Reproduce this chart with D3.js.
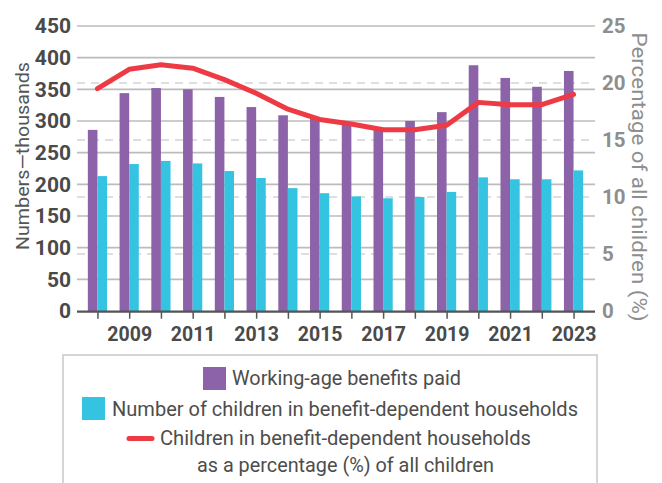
<!DOCTYPE html>
<html>
<head>
<meta charset="utf-8">
<script src="https://cdn.jsdelivr.net/npm/d3@7"></script>
<style>
  html, body { margin: 0; padding: 0; background: #fff; }
  svg { display: block; font-family: Roboto, "Noto Sans", sans-serif; }
</style>
</head>
<body>
<svg id="chart" width="662" height="483"></svg>
<script>
// Years shown on the x axis
const years = [2008, 2009, 2010, 2011, 2012, 2013, 2014, 2015,
               2016, 2017, 2018, 2019, 2020, 2021, 2022, 2023];
// Working-age benefits paid (thousands)
const benefitsPaid = [286, 344, 352, 350, 338, 322, 309, 304,
                      297, 290, 300, 314, 388, 368, 354, 379];
// Children in benefit-dependent households (thousands)
const childrenDependent = [213, 232, 237, 233, 221, 210, 194, 186,
                           181, 178, 180, 188, 211, 208, 208, 222];
// Children in benefit-dependent households as % of all children
const childrenPct = [19.5, 21.2, 21.6, 21.3, 20.3, 19.1, 17.7, 16.8,
                     16.4, 15.9, 15.9, 16.3, 18.3, 18.1, 18.1, 19.0];
// Axis ticks
const leftTicks = [0, 50, 100, 150, 200, 250, 300, 350, 400, 450];
const rightTicks = [0, 5, 10, 15, 20, 25];
const labelledYears = [2009, 2011, 2013, 2015, 2017, 2019, 2021, 2023];

const colPurple = "#8c62a9";
const colCyan = "#34c3e0";
const colRed = "#ee3a44";

const svg = d3.select("#chart");
const plotL = 77, plotR = 595, plotT = 26, plotB = 311;

const x = d3.scalePoint().domain(years).range([76.5, 594.5]).padding(0.66);
const y = d3.scaleLinear().domain([0, 450]).range([plotB, plotT]);
const y2 = d3.scaleLinear().domain([0, 25]).range([plotB, plotT]);
const barW = 9.6;

// Gridlines: solid for the left scale, dashed for the right scale
svg.append("g").selectAll("line").data(leftTicks.slice(1)).join("line")
  .attr("x1", plotL).attr("x2", plotR)
  .attr("y1", d => y(d)).attr("y2", d => y(d))
  .attr("stroke", "#bcbcbc").attr("stroke-width", 1.6);
svg.append("g").selectAll("line").data(rightTicks.slice(1, -1)).join("line")
  .attr("x1", plotL).attr("x2", plotR)
  .attr("y1", d => y2(d)).attr("y2", d => y2(d))
  .attr("stroke", "#d4d4d4").attr("stroke-width", 1.5)
  .attr("stroke-dasharray", "8,6");

// Bars
const rows = years.map((yr, i) => ({ yr, a: benefitsPaid[i], b: childrenDependent[i], p: childrenPct[i] }));
svg.append("g").selectAll("rect").data(rows).join("rect")
  .attr("x", d => x(d.yr) - barW).attr("width", barW)
  .attr("y", d => y(d.a)).attr("height", d => y(0) - y(d.a))
  .attr("fill", colPurple);
svg.append("g").selectAll("rect").data(rows).join("rect")
  .attr("x", d => x(d.yr)).attr("width", barW)
  .attr("y", d => y(d.b)).attr("height", d => y(0) - y(d.b))
  .attr("fill", colCyan);

// Percentage line
svg.append("path").datum(rows)
  .attr("d", d3.line().x(d => x(d.yr)).y(d => y2(d.p)))
  .attr("fill", "none").attr("stroke", colRed)
  .attr("stroke-width", 5).attr("stroke-linejoin", "round").attr("stroke-linecap", "round");

// X axis
const xAxis = svg.append("g").attr("transform", `translate(0,${plotB + 0.7})`)
  .call(d3.axisBottom(x).tickSizeInner(7).tickSizeOuter(0).tickPadding(8)
    .tickFormat(d => labelledYears.includes(d) ? d : ""));
xAxis.select(".domain").attr("d", `M${plotL},0H${plotR}`).attr("stroke", "#555").attr("stroke-width", 2.3);
xAxis.selectAll(".tick line").attr("stroke", "#555").attr("stroke-width", 1.5);
xAxis.selectAll(".tick text").attr("fill", "#4a4a4a").attr("font-size", 19.5)
  .attr("font-weight", 700).attr("font-family", "Roboto, sans-serif");

// Left axis
const yAxis = svg.append("g").attr("transform", `translate(${plotL},0)`)
  .call(d3.axisLeft(y).tickValues(leftTicks).tickSize(0).tickPadding(6));
yAxis.select(".domain").remove();
yAxis.selectAll(".tick text").attr("fill", "#4a4a4a").attr("font-size", 21)
  .attr("font-weight", 700).attr("font-family", "Roboto, sans-serif");

// Right axis
const y2Axis = svg.append("g").attr("transform", `translate(${plotR},0)`)
  .call(d3.axisRight(y2).tickValues(rightTicks).tickSize(0).tickPadding(7));
y2Axis.select(".domain").remove();
y2Axis.selectAll(".tick text").attr("fill", "#8e8e8e").attr("font-size", 20.5)
  .attr("font-weight", 700).attr("font-family", "Roboto, sans-serif");

// Axis titles
svg.append("text").attr("transform", "translate(29,156) rotate(-90)")
  .attr("text-anchor", "middle").attr("fill", "#555").attr("font-size", 19)
  .attr("textLength", 188).attr("lengthAdjust", "spacingAndGlyphs")
  .text("Numbers—thousands");
svg.append("text").attr("transform", "translate(632,177) rotate(90)")
  .attr("text-anchor", "middle").attr("fill", "#8e8e8e").attr("font-size", 19.5)
  .attr("textLength", 289).attr("lengthAdjust", "spacingAndGlyphs")
  .text("Percentage of all children (%)");

// Legend
const lg = svg.append("g");
lg.append("rect").attr("x", 63).attr("y", 355).attr("width", 534).attr("height", 140)
  .attr("fill", "none").attr("stroke", "#c8c8c8").attr("stroke-width", 1.5);

function legendText(xp, yp, w, str) {
  lg.append("text").attr("x", xp).attr("y", yp).attr("fill", "#4d4d4d")
    .attr("font-size", 21).attr("textLength", w).attr("lengthAdjust", "spacingAndGlyphs")
    .text(str);
}
lg.append("rect").attr("x", 203).attr("y", 367).attr("width", 23).attr("height", 23).attr("fill", colPurple);
legendText(232, 385, 229, "Working-age benefits paid");
lg.append("rect").attr("x", 82).attr("y", 397).attr("width", 23).attr("height", 23).attr("fill", colCyan);
legendText(112, 415.5, 466, "Number of children in benefit-dependent households");
lg.append("line").attr("x1", 129).attr("x2", 152).attr("y1", 438.5).attr("y2", 438.5)
  .attr("stroke", colRed).attr("stroke-width", 5).attr("stroke-linecap", "round");
legendText(160, 445, 371, "Children in benefit-dependent households");
legendText(197, 472, 297, "as a percentage (%) of all children");
</script>
</body>
</html>
